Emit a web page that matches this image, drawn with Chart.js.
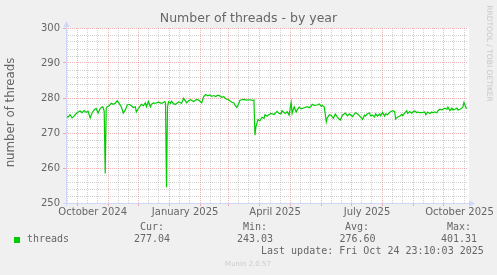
<!DOCTYPE html>
<html>
<head>
<meta charset="utf-8">
<title>Number of threads - by year</title>
<script src="https://cdn.jsdelivr.net/npm/chart.js@4.4.1/dist/chart.umd.min.js"></script>
<style>
  html, body { margin: 0; padding: 0; background: #f0f0f0; }
  #wrap { width: 497px; height: 275px; }
</style>
</head>
<body>
<div id="wrap"><canvas id="threads-chart" width="497" height="275"></canvas></div>
<script>
// days since graph start (400 day munin "year" window ending Oct 24 2025)
const days = [
  0, 2, 4, 6, 8, 10, 12, 14, 16, 18,
  20, 22, 24, 26, 28, 30, 32, 34, 36, 37,
  38, 39, 40, 41, 43, 45, 47, 49, 51, 53,
  55, 57, 59, 61, 63, 65, 67, 69, 70, 72,
  75, 77, 79, 80, 82, 84, 85, 87, 89, 92,
  95, 97, 98, 99, 100, 101, 102, 104, 105, 107,
  109, 112, 115, 117, 120, 122, 124, 127, 130, 132,
  135, 137, 139, 141, 143, 145, 147, 149, 151, 153,
  155, 157, 159, 161, 163, 165, 167, 168, 170, 172,
  173, 175, 177, 180, 183, 186, 187, 188, 189, 191,
  193, 195, 197, 198, 200, 201, 204, 207, 210, 212,
  214, 215, 218, 220, 222, 224, 225, 227, 229, 230,
  232, 234, 237, 240, 242, 244, 245, 247, 250, 252,
  254, 255, 257, 259, 260, 262, 264, 266, 268, 270,
  272, 273, 275, 278, 280, 282, 285, 288, 290, 292,
  293, 295, 297, 298, 300, 302, 303, 305, 307, 308,
  310, 312, 313, 315, 317, 318, 320, 322, 323, 325,
  327, 328, 330, 332, 333, 334, 335, 337, 339, 340,
  342, 344, 345, 347, 349, 350, 352, 355, 357, 358,
  360, 362, 364, 365, 367, 369, 370, 372, 374, 375,
  377, 379, 380, 382, 384, 385, 387, 389, 390, 392,
  394, 395, 396, 397, 398, 399
];
const threads = [
  275.0, 274.5, 275.2, 274.3, 274.8, 275.5, 276.0, 276.3, 275.8, 276.4,
  275.9, 276.2, 274.3, 275.8, 276.6, 277.0, 275.7, 277.0, 277.5, 277.3,
  276.2, 258.4, 277.0, 277.5, 277.8, 278.5, 278.2, 278.5, 279.2, 278.4,
  277.5, 275.7, 276.6, 278.0, 278.2, 277.8, 277.3, 277.5, 276.0, 277.0,
  278.2, 277.8, 278.6, 277.5, 279.0, 277.5, 278.2, 278.6, 278.5, 278.8,
  278.5, 278.7, 279.0, 278.8, 254.5, 277.5, 278.9, 278.5, 279.1, 278.3,
  278.2, 278.9, 278.5, 279.9, 278.6, 279.2, 279.5, 279.0, 279.6, 279.4,
  278.6, 280.4, 281.0, 280.6, 280.9, 280.5, 280.7, 280.4, 280.8, 280.6,
  280.2, 280.4, 279.8, 279.6, 279.2, 278.8, 278.6, 278.0, 277.3, 278.5,
  279.3, 279.5, 279.6, 279.4, 279.5, 279.3, 279.4, 269.4, 271.8, 273.8,
  273.5, 274.5, 274.2, 275.2, 274.8, 275.1, 275.6, 275.3, 276.2, 275.6,
  275.5, 276.4, 275.6, 276.1, 275.1, 278.7, 275.6, 277.5, 276.0, 276.6,
  277.4, 276.9, 277.2, 277.5, 277.2, 277.7, 278.2, 277.9, 278.0, 278.3,
  277.6, 277.9, 277.4, 273.2, 274.3, 275.2, 275.0, 274.2, 275.4, 274.5,
  273.9, 273.7, 275.1, 275.7, 274.9, 275.5, 274.7, 275.8, 275.5, 274.9,
  274.6, 273.9, 275.1, 274.9, 275.5, 275.7, 274.9, 275.1, 274.6, 275.5,
  274.8, 275.4, 274.9, 275.9, 274.8, 275.5, 275.2, 275.9, 276.1, 276.4,
  276.1, 274.0, 274.6, 274.8, 275.0, 275.3, 275.0, 275.7, 276.4, 275.6,
  276.1, 275.6, 276.0, 276.3, 275.8, 276.0, 275.8, 275.9, 276.0, 275.2,
  276.0, 275.6, 276.0, 275.8, 276.0, 275.8, 276.3, 276.8, 276.6, 276.8,
  277.1, 276.8, 277.4, 276.4, 277.1, 276.6, 276.8, 277.1, 276.6, 276.8,
  277.1, 277.5, 278.7, 278.0, 277.2, 277.0
];

const xTickLabels = ['October 2024', 'January 2025', 'April 2025', 'July 2025', 'October 2025'];
const xTickMonths = ['2024-10', '2025-01', '2025-04', '2025-07', '2025-10'];
const yTickLabels = [250, 260, 270, 280, 290, 300];
const yMinorStep = 2;
const statNames = ['Cur:', 'Min:', 'Avg:', 'Max:'];
const statValues = ['277.04', '243.03', '276.60', '401.31'];
const seriesName = 'threads';
const lastUpdate = 'Last update: Fri Oct 24 23:10:03 2025';

const startMs = Date.UTC(2024, 8, 19, 23, 10);
const dayOf = (y, m, d) => (Date.UTC(y, m, d) - startMs) / 86400000;

// grid: month starts (red), 11th and 21st (grey), labels in the middle of the month
const xTicks = [];
for (let i = 0; i < 15; i++) {
  const y = 2024 + Math.floor((8 + i) / 12), m = (8 + i) % 12;
  [1, 11, 21].forEach((d) => {
    const v = dayOf(y, m, d);
    if (v > 0 && v < 400) xTicks.push({ value: v, kind: d === 1 ? 'major' : 'minor', text: '' });
  });
}
xTickMonths.forEach((ym, i) => {
  const [y, m] = ym.split('-').map(Number);
  const mid = (dayOf(y, m - 1, 1) + dayOf(y, m, 1)) / 2;
  xTicks.push({ value: mid, kind: 'label', text: xTickLabels[i] });
});
xTicks.sort((a, b) => a.value - b.value);

const yTicks = [];
for (let v = yTickLabels[0]; v <= yTickLabels[yTickLabels.length - 1]; v += yMinorStep) {
  yTicks.push({ value: v, major: yTickLabels.includes(v) });
}

const minorGrid = 'rgba(143,143,143,0.4)';
const majorGrid = 'rgba(222,79,79,0.42)';
const clear = 'rgba(0,0,0,0)';

const decorations = {
  id: 'decorations',
  beforeDraw(chart) {
    const { ctx, chartArea: a } = chart;
    ctx.save();
    ctx.fillStyle = '#f0f0f0';
    ctx.fillRect(0, 0, chart.width, chart.height);
    ctx.fillStyle = '#ffffff';
    ctx.fillRect(a.left, a.top, a.right - a.left + 1, a.bottom - a.top);
    ctx.restore();
  },
  afterDraw(chart) {
    const { ctx, chartArea: a } = chart;
    ctx.save();
    // axes + arrows
    ctx.strokeStyle = '#cfd6f8';
    ctx.fillStyle = '#cfd6f8';
    ctx.lineWidth = 1;
    ctx.beginPath();
    ctx.moveTo(a.left - 3, a.bottom + 0.5);
    ctx.lineTo(a.right + 2, a.bottom + 0.5);
    ctx.moveTo(a.left + 0.5, a.bottom + 3);
    ctx.lineTo(a.left + 0.5, a.top - 3);
    ctx.stroke();
    ctx.beginPath();
    ctx.moveTo(a.right + 7, a.bottom + 0.5);
    ctx.lineTo(a.right + 1, a.bottom - 2.5);
    ctx.lineTo(a.right + 1, a.bottom + 3.5);
    ctx.closePath();
    ctx.fill();
    ctx.beginPath();
    ctx.moveTo(a.left + 0.5, a.top - 7);
    ctx.lineTo(a.left - 2.5, a.top - 1);
    ctx.lineTo(a.left + 3.5, a.top - 1);
    ctx.closePath();
    ctx.fill();

    ctx.fillStyle = '#666666';
    ctx.textBaseline = 'middle';
    ctx.textAlign = 'center';
    ctx.font = "12.5px 'DejaVu Sans'";
    ctx.fillText('Number of threads - by year', 248.5, 19);

    ctx.save();
    ctx.translate(10.5, 112.5);
    ctx.rotate(-Math.PI / 2);
    ctx.font = "11.8px 'DejaVu Sans'";
    ctx.fillText('number of threads', 0, 0);
    ctx.restore();

    ctx.save();
    ctx.translate(488.5, 53.5);
    ctx.rotate(Math.PI / 2);
    ctx.fillStyle = '#c8c8c8';
    ctx.font = "7.5px 'DejaVu Sans'";
    ctx.fillText('RRDTOOL / TOBI OETIKER', 0, 0);
    ctx.restore();

    // legend
    ctx.font = "10px 'DejaVu Sans Mono'";
    ctx.textAlign = 'left';
    const nameX = [140, 243, 345, 447];
    const valX = [134, 237, 339.5, 441];
    statNames.forEach((s, i) => ctx.fillText(s, nameX[i], 227.7));
    statValues.forEach((s, i) => ctx.fillText(s, valX[i], 239.5));
    ctx.fillText(seriesName, 27, 239.5);
    ctx.fillText(lastUpdate, 261, 251.2);
    ctx.fillStyle = '#00cc00';
    ctx.fillRect(14, 237, 6, 6);

    ctx.fillStyle = '#cccccc';
    ctx.textAlign = 'center';
    ctx.font = "7px 'DejaVu Sans'";
    ctx.fillText('Munin 2.0.57', 248, 264.5);
    ctx.restore();
  }
};

Chart.defaults.font.family = "'DejaVu Sans'";
Chart.defaults.font.size = 10;
Chart.defaults.color = '#666666';

new Chart(document.getElementById('threads-chart'), {
  type: 'line',
  data: {
    datasets: [{
      label: seriesName,
      data: days.map((d, i) => ({ x: d, y: threads[i] })),
      borderColor: '#00cc00',
      borderWidth: 1.2,
      pointRadius: 0,
      tension: 0,
      fill: false
    }]
  },
  options: {
    responsive: false,
    animation: false,
    events: [],
    layout: { padding: { left: 0, top: 28, right: 29, bottom: 52 } },
    plugins: { legend: { display: false }, tooltip: { enabled: false }, title: { display: false } },
    scales: {
      x: {
        type: 'linear',
        min: 0,
        max: 400,
        afterBuildTicks: (scale) => { scale.ticks = xTicks.map((t) => ({ value: t.value })); },
        afterFit: (scale) => { scale.height = 20; scale.paddingLeft = 0; scale.paddingRight = 0; },
        ticks: {
          autoSkip: false,
          maxRotation: 0,
          minRotation: 0,
          padding: 0.5,
          color: '#666666',
          font: { size: 10 },
          callback: (v, i) => (xTicks[i] ? xTicks[i].text : '')
        },
        grid: {
          tickLength: 3,
          color: (c) => {
            const t = xTicks[c.index];
            if (!t || t.kind === 'label') return clear;
            return t.kind === 'major' ? majorGrid : minorGrid;
          },
          tickColor: (c) => {
            const t = xTicks[c.index];
            return t && t.kind === 'major' ? majorGrid : clear;
          }
        },
        border: { display: false, dash: [1, 1] }
      },
      y: {
        min: 250,
        max: 300,
        afterBuildTicks: (scale) => { scale.ticks = yTicks.map((t) => ({ value: t.value })); },
        afterFit: (scale) => { scale.width = 66; },
        ticks: {
          autoSkip: false,
          padding: 3,
          color: '#666666',
          font: { size: 10 },
          callback: (v, i) => (yTicks[i] && yTicks[i].major ? String(v) : '')
        },
        grid: {
          tickLength: 3,
          color: (c) => (yTicks[c.index] && yTicks[c.index].major ? majorGrid : minorGrid),
          tickColor: (c) => (yTicks[c.index] && yTicks[c.index].major ? majorGrid : clear)
        },
        border: { display: false, dash: [1, 1] }
      }
    }
  },
  plugins: [decorations]
});
</script>
</body>
</html>
